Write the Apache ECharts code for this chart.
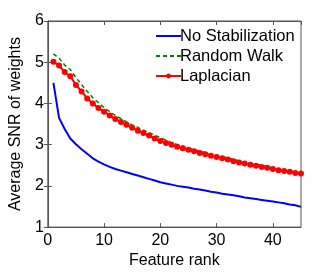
<!DOCTYPE html>
<html><head><meta charset="utf-8">
<script src="https://cdn.jsdelivr.net/npm/echarts@6/dist/echarts.min.js"></script>
<style>html,body{margin:0;padding:0;background:#fff}#c{width:332px;height:274px}</style>
</head><body><div id="c"></div>
<script>
const ranks = Array.from({length:45},(_,i)=>i+1);
const noStab = [4.50,3.65,3.38,3.15,3.01,2.89,2.78,2.67,2.59,2.52,2.46,2.41,2.37,2.33,2.29,2.25,2.21,2.17,2.13,2.09,2.06,2.03,2.00,1.98,1.96,1.93,1.91,1.89,1.86,1.84,1.81,1.79,1.77,1.75,1.72,1.70,1.68,1.66,1.64,1.62,1.60,1.58,1.55,1.53,1.49];
const randomWalk = [5.20,5.10,4.93,4.82,4.63,4.46,4.29,4.14,4.02,3.90,3.80,3.71,3.63,3.55,3.48,3.42,3.35,3.29,3.23,3.17,3.11,3.05,3.00,2.96,2.92,2.88,2.84,2.81,2.77,2.74,2.71,2.68,2.64,2.61,2.58,2.55,2.52,2.50,2.47,2.44,2.41,2.38,2.36,2.33,2.31];
const laplacian = [5.01,4.92,4.76,4.66,4.45,4.29,4.12,4.00,3.89,3.80,3.71,3.62,3.55,3.48,3.41,3.34,3.28,3.22,3.15,3.09,3.04,3.00,2.95,2.91,2.875,2.84,2.80,2.77,2.73,2.70,2.67,2.64,2.60,2.57,2.54,2.51,2.49,2.46,2.44,2.41,2.38,2.36,2.34,2.31,2.30];
const xTicks = {min:0,max:45,interval:10};
const yTicks = {min:1,max:6,interval:1};
const names = ['No Stabilization','Random Walk','Laplacian'];

const font = 'Liberation Sans, Arial, sans-serif';
const axisColor = '#555';
const chart = echarts.init(document.getElementById('c'));
const pair = a => ranks.map((r,i)=>[r,a[i]]);
chart.setOption({
  animation:false,
  grid:{left:43,right:31,top:21,bottom:37,show:true,borderColor:axisColor,borderWidth:1,backgroundColor:'transparent'},
  legend:{
    orient:'vertical', left:150, top:21, itemWidth:25, itemHeight:6, itemGap:0,
    textStyle:{fontFamily:font,fontSize:16.5,lineHeight:20,color:'#000',padding:[0,0,0,-6]},
    data:[
      {name:names[0], itemStyle:{opacity:0}},
      {name:names[1], itemStyle:{opacity:0}},
      {name:names[2]}
    ]
  },
  xAxis:[{
    type:'value', min:xTicks.min, max:xTicks.max, interval:xTicks.interval,
    name:'Feature rank', nameLocation:'middle', nameGap:22,
    nameTextStyle:{fontFamily:font,fontSize:16,color:'#000'},
    axisLine:{show:true,lineStyle:{color:axisColor,width:1}},
    axisTick:{show:true,inside:true,length:4,lineStyle:{color:axisColor}},
    axisLabel:{fontFamily:font,fontSize:16,color:'#000',margin:5,showMaxLabel:false},
    splitLine:{show:false}
  },{
    type:'value', position:'top', min:xTicks.min, max:xTicks.max, interval:xTicks.interval,
    axisLine:{show:true,lineStyle:{color:axisColor,width:1}},
    axisTick:{show:true,inside:true,length:4,lineStyle:{color:axisColor}},
    axisLabel:{show:false}, splitLine:{show:false}
  }],
  yAxis:[{
    type:'value', min:yTicks.min, max:yTicks.max, interval:yTicks.interval,
    name:'Average SNR of weights', nameLocation:'middle', nameGap:21,
    nameTextStyle:{fontFamily:font,fontSize:16,color:'#000'},
    axisLine:{show:true,lineStyle:{color:axisColor,width:1}},
    axisTick:{show:true,inside:true,length:4,lineStyle:{color:axisColor}},
    axisLabel:{fontFamily:font,fontSize:16,color:'#000',margin:4},
    splitLine:{show:false}
  },{
    type:'value', position:'right', min:yTicks.min, max:yTicks.max, interval:yTicks.interval,
    axisLine:{show:true,lineStyle:{color:axisColor,width:1}},
    axisTick:{show:true,inside:true,length:4,lineStyle:{color:axisColor}},
    axisLabel:{show:false}, splitLine:{show:false}
  }],
  series:[
    {name:names[0],type:'line',data:pair(noStab),symbol:'none',lineStyle:{color:'#0000ff',width:2},itemStyle:{color:'#0000ff'}},
    {name:names[1],type:'line',data:pair(randomWalk),symbol:'none',lineStyle:{color:'#008000',width:1.5,type:[4,3]},itemStyle:{color:'#008000'}},
    {name:names[2],type:'line',data:pair(laplacian),symbol:'circle',symbolSize:6,lineStyle:{color:'#ff0000',width:2},itemStyle:{color:'#ff0000'}}
  ]
});
</script></body></html>
